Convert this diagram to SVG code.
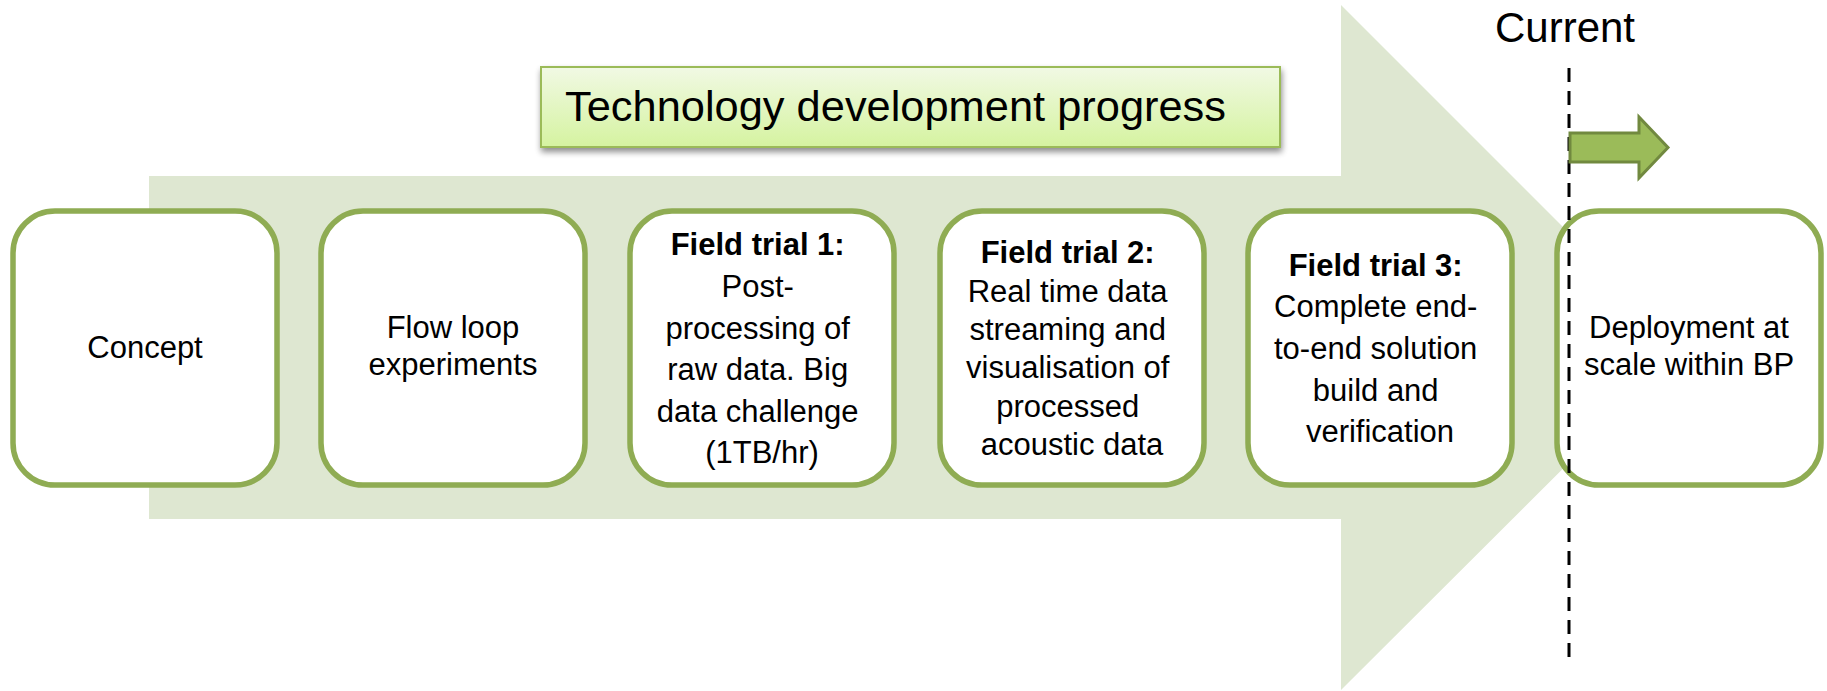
<svg xmlns="http://www.w3.org/2000/svg" width="1827" height="691" viewBox="0 0 1827 691">
  <defs>
    <linearGradient id="titleFill" x1="0" y1="0" x2="0" y2="1">
      <stop offset="0" stop-color="#f1f9e4"/>
      <stop offset="1" stop-color="#d5f3a0"/>
    </linearGradient>
    <filter id="dropShadow" x="-5%" y="-20%" width="110%" height="150%">
      <feGaussianBlur in="SourceAlpha" stdDeviation="3"/>
      <feOffset dx="1" dy="4" result="blur"/>
      <feComponentTransfer><feFuncA type="linear" slope="0.45"/></feComponentTransfer>
      <feMerge><feMergeNode/><feMergeNode in="SourceGraphic"/></feMerge>
    </filter>
  </defs>
  <style>
    .stage { fill: #ffffff; stroke: #8fac53; stroke-width: 5.5; }
    .label { font-family: "Liberation Sans", Arial, sans-serif; font-size: 31px; fill: #000000; text-anchor: middle; }
    .bold { font-weight: bold; }
  </style>

  <rect width="1827" height="691" fill="#ffffff"/>

  <!-- broad background arrow -->
  <g id="progress-arrow">
    <path d="M149,176 H1341 V5 L1684,348 L1341,690 V519 H149 Z" fill="#dee7d1"/>
  </g>

  <!-- heading banner -->
  <g id="title">
    <rect x="541" y="67" width="739" height="80" fill="url(#titleFill)" stroke="#9bbb59" stroke-width="2" filter="url(#dropShadow)"/>
    <text x="565" y="121" font-family="'Liberation Sans', Arial, sans-serif" font-size="43" fill="#000000" textLength="661" lengthAdjust="spacingAndGlyphs">Technology development progress</text>
  </g>

  <g id="stage-concept">
    <rect class="stage" x="13" y="211" width="264" height="274" rx="42" ry="42"/>
    <text class="label" x="145" y="358">Concept</text>
  </g>

  <g id="stage-flow-loop">
    <rect class="stage" x="321" y="211" width="264" height="274" rx="42" ry="42"/>
    <text class="label" x="453"><tspan x="453" y="338">Flow loop</tspan><tspan x="453" y="375">experiments</tspan></text>
  </g>

  <g id="stage-field-trial-1">
    <rect class="stage" x="630" y="211" width="264" height="274" rx="42" ry="42"/>
    <text class="label" x="762">
      <tspan class="bold" x="762" y="255">Field trial 1:</tspan>
      <tspan x="762" y="297">Post-</tspan>
      <tspan x="762" y="339">processing of</tspan>
      <tspan x="762" y="380">raw data. Big</tspan>
      <tspan x="762" y="422">data challenge</tspan>
      <tspan x="762" y="463">(1TB/hr)</tspan>
    </text>
  </g>

  <g id="stage-field-trial-2">
    <rect class="stage" x="940" y="211" width="264" height="274" rx="42" ry="42"/>
    <text class="label" x="1072">
      <tspan class="bold" x="1072" y="263">Field trial 2:</tspan>
      <tspan x="1072" y="302">Real time data</tspan>
      <tspan x="1072" y="340">streaming and</tspan>
      <tspan x="1072" y="378">visualisation of</tspan>
      <tspan x="1072" y="417">processed</tspan>
      <tspan x="1072" y="455">acoustic data</tspan>
    </text>
  </g>

  <g id="stage-field-trial-3">
    <rect class="stage" x="1248" y="211" width="264" height="274" rx="42" ry="42"/>
    <text class="label" x="1380">
      <tspan class="bold" x="1380" y="276">Field trial 3:</tspan>
      <tspan x="1380" y="317">Complete end-</tspan>
      <tspan x="1380" y="359">to-end solution</tspan>
      <tspan x="1380" y="401">build and</tspan>
      <tspan x="1380" y="442">verification</tspan>
    </text>
  </g>

  <g id="stage-deployment">
    <rect class="stage" x="1557" y="211" width="264" height="274" rx="42" ry="42"/>
    <text class="label" x="1689"><tspan x="1689" y="338">Deployment at</tspan><tspan x="1689" y="375">scale within BP</tspan></text>
  </g>

  <!-- "now" marker: label, dashed line and forward arrow -->
  <g id="current-marker">
    <text x="1565" y="42" font-family="'Liberation Sans', Arial, sans-serif" font-size="42" fill="#000000" text-anchor="middle">Current</text>
    <g id="connectors">
      <line x1="1569" y1="68" x2="1569" y2="657" stroke="#000000" stroke-width="3" stroke-dasharray="14 9"/>
      <path d="M1570,133 H1639 V117 L1668,147.5 L1639,178 V162 H1570 Z" fill="#9bbb59" stroke="#71893f" stroke-width="3" stroke-linejoin="miter"/>
    </g>
  </g>
</svg>
